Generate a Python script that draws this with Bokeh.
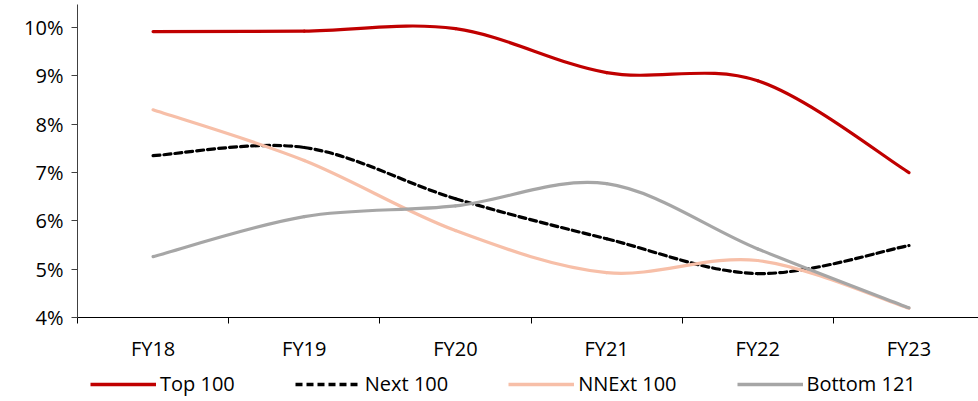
from bokeh.plotting import figure
from bokeh.layouts import column
from bokeh.models import FixedTicker, Legend, LegendItem, ColumnDataSource, Range1d
from bokeh.embed import file_html
from bokeh.resources import INLINE

categories = ["FY18", "FY19", "FY20", "FY21", "FY22", "FY23"]
top100 = [9.92, 9.93, 9.98, 9.07, 8.90, 7.00]
next100 = [7.35, 7.52, 6.46, 5.63, 4.91, 5.49]
nnext100 = [8.30, 7.25, 5.80, 4.93, 5.18, 4.19]
bottom121 = [5.26, 6.09, 6.31, 6.77, 5.42, 4.20]
y_ticks = [4, 5, 6, 7, 8, 9, 10]

series = [
    ("Top 100", top100, "#C00000", "solid"),
    ("Next 100", next100, "#000000", "7 4"),
    ("NNExt 100", nnext100, "#F7BFA8", "solid"),
    ("Bottom 121", bottom121, "#A6A6A6", "solid"),
]

FONT = "Open Sans"

p = figure(width=978, height=366, output_backend="svg", toolbar_location=None,
           x_range=Range1d(0, 5.96), y_range=Range1d(4, 10.48),
           min_border_left=77, min_border_right=0, min_border_top=4,
           min_border_bottom=49)
p.outline_line_color = None
p.xgrid.visible = False
p.ygrid.visible = False
p.background_fill_color = "white"
p.border_fill_color = "white"

xs = [i + 0.5 for i in range(len(categories))]


def bezier_source(ys):
    n = len(ys)
    pts = list(zip(xs, ys))
    d = dict(x0=[], y0=[], x1=[], y1=[], cx0=[], cy0=[], cx1=[], cy1=[])
    for i in range(n - 1):
        p0 = pts[max(i - 1, 0)]
        p1 = pts[i]
        p2 = pts[i + 1]
        p3 = pts[min(i + 2, n - 1)]
        d["x0"].append(p1[0]); d["y0"].append(p1[1])
        d["x1"].append(p2[0]); d["y1"].append(p2[1])
        d["cx0"].append(p1[0] + (p2[0] - p0[0]) / 6)
        d["cy0"].append(p1[1] + (p2[1] - p0[1]) / 6)
        d["cx1"].append(p2[0] - (p3[0] - p1[0]) / 6)
        d["cy1"].append(p2[1] - (p3[1] - p1[1]) / 6)
    return ColumnDataSource(d)


for name, ys, color, dash in series:
    p.bezier(x0="x0", y0="y0", x1="x1", y1="y1", cx0="cx0", cy0="cy0",
             cx1="cx1", cy1="cy1", source=bezier_source(ys),
             line_color=color, line_width=3.2, line_dash=dash, line_cap="round")

xa = p.xaxis[0]
xa.ticker = FixedTicker(ticks=xs, minor_ticks=list(range(0, len(categories) + 1)))
xa.major_label_overrides = {x: c for x, c in zip(xs, categories)}
xa.major_tick_line_color = None
xa.major_tick_in = 0
xa.major_tick_out = 0
xa.minor_tick_line_color = "#000000"
xa.minor_tick_in = 0
xa.minor_tick_out = 6
xa.axis_line_color = "#000000"
xa.axis_line_width = 1
xa.major_label_text_font = FONT
xa.major_label_text_font_size = "20px"
xa.major_label_text_color = "#000000"
xa.major_label_standoff = 11
xa.axis_label_standoff = 0

ya = p.yaxis[0]
ya.ticker = FixedTicker(ticks=y_ticks, minor_ticks=[])
ya.major_label_overrides = {t: f"{t}%" for t in y_ticks}
ya.major_tick_in = 0
ya.major_tick_out = 6
ya.major_tick_line_color = "#404040"
ya.axis_line_color = "#404040"
ya.major_label_text_font = FONT
ya.major_label_text_font_size = "20px"
ya.major_label_text_color = "#000000"
ya.major_label_standoff = 8

# legend strip
q = figure(width=978, height=35, output_backend="svg", toolbar_location=None,
           x_range=Range1d(0, 1), y_range=Range1d(0, 1),
           min_border_left=0, min_border_right=0, min_border_top=0,
           min_border_bottom=0)
q.axis.visible = False
q.xgrid.visible = False
q.ygrid.visible = False
q.outline_line_color = None
items = []
for name, ys, color, dash in series:
    lr = q.line(x=[-10, -9], y=[-10, -10], line_color=color, line_width=3.5, line_dash=dash)
    items.append(LegendItem(label=name, renderers=[lr]))

legend = Legend(items=items, orientation="horizontal", location=(13, 4),
                label_text_font=FONT, label_text_font_size="20px",
                label_text_color="#000000", glyph_width=66, glyph_height=16,
                label_standoff=4, spacing=60, padding=0, margin=0,
                border_line_color=None, background_fill_alpha=0)
q.add_layout(legend, "center")

open("out.html", "w").write(file_html(column(p, q, spacing=0), INLINE))
